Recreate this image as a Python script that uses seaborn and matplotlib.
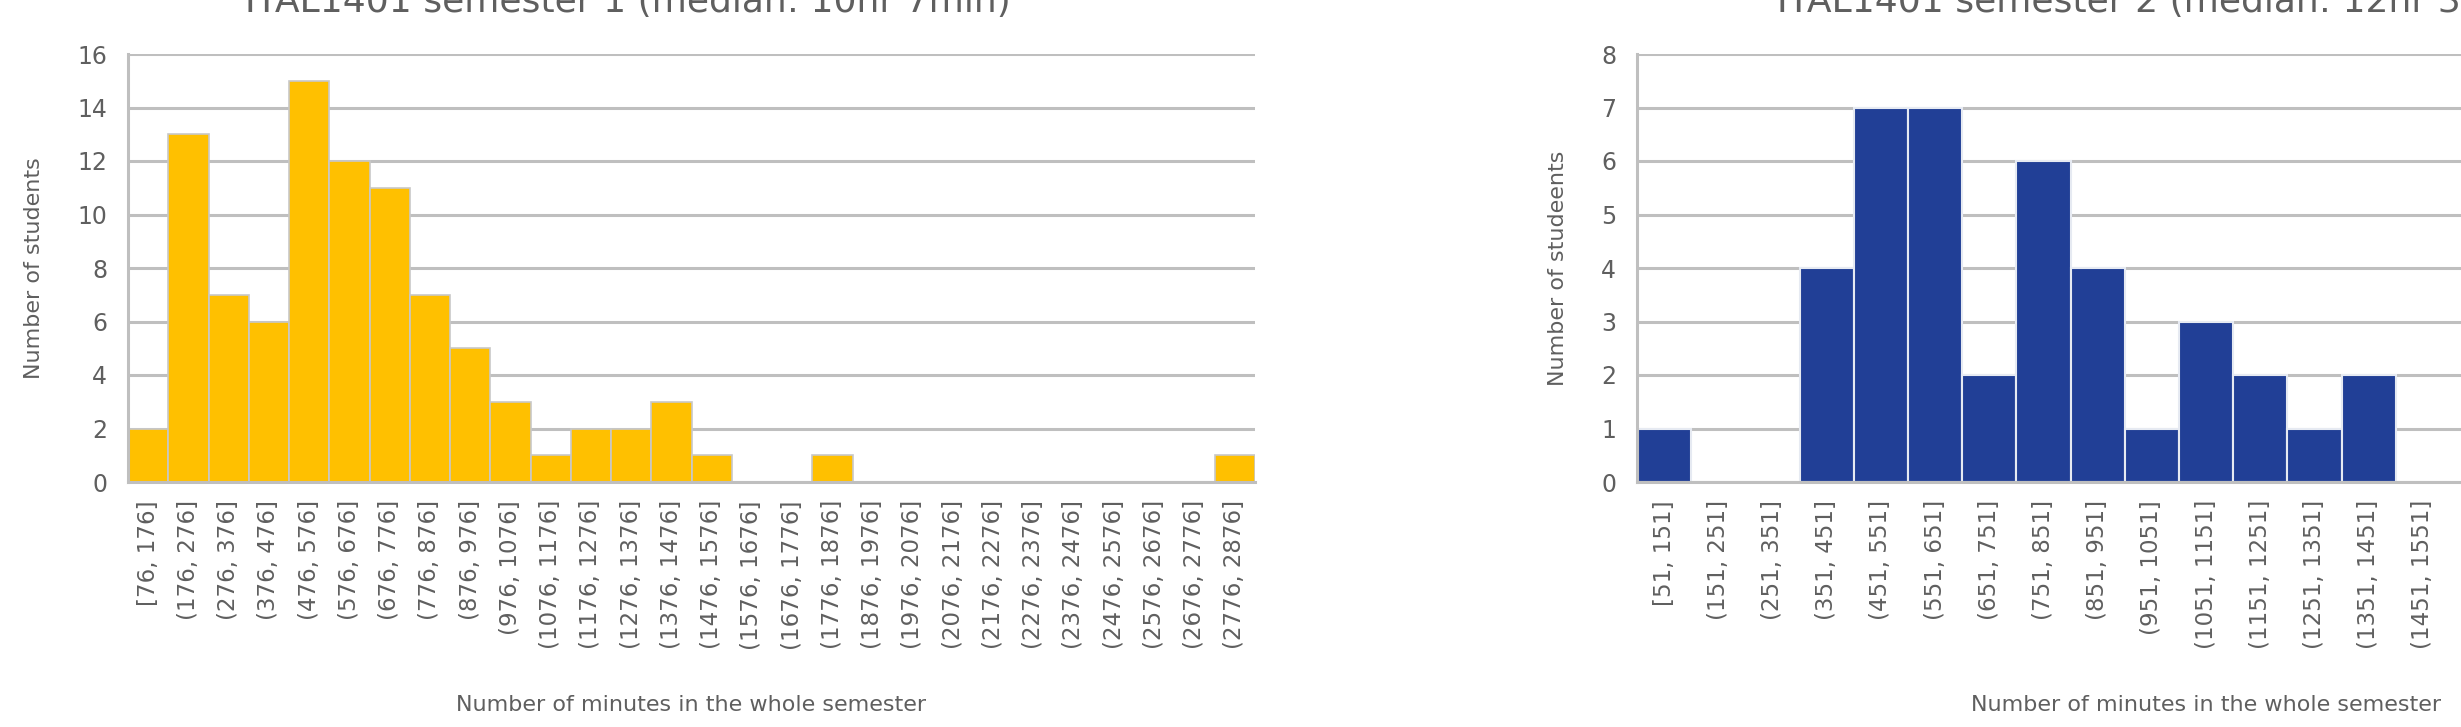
import matplotlib
matplotlib.use("Agg")
import matplotlib.pyplot as plt
import seaborn as sns
import pandas as pd

# ---- data ----
sem1_bins = ["[76, 176]", "(176, 276]", "(276, 376]", "(376, 476]", "(476, 576]",
             "(576, 676]", "(676, 776]", "(776, 876]", "(876, 976]", "(976, 1076]",
             "(1076, 1176]", "(1176, 1276]", "(1276, 1376]", "(1376, 1476]",
             "(1476, 1576]", "(1576, 1676]", "(1676, 1776]", "(1776, 1876]",
             "(1876, 1976]", "(1976, 2076]", "(2076, 2176]", "(2176, 2276]",
             "(2276, 2376]", "(2376, 2476]", "(2476, 2576]", "(2576, 2676]",
             "(2676, 2776]", "(2776, 2876]"]
sem1_counts = [2, 13, 7, 6, 15, 12, 11, 7, 5, 3, 1, 2, 2, 3, 1, 0, 0, 1,
               0, 0, 0, 0, 0, 0, 0, 0, 0, 1]

sem2_bins = ["[51, 151]", "(151, 251]", "(251, 351]", "(351, 451]", "(451, 551]",
             "(551, 651]", "(651, 751]", "(751, 851]", "(851, 951]", "(951, 1051]",
             "(1051, 1151]", "(1151, 1251]", "(1251, 1351]", "(1351, 1451]",
             "(1451, 1551]"]
sem2_counts = [1, 0, 0, 4, 7, 7, 2, 6, 4, 1, 3, 2, 1, 2, 0]

title1 = "ITAL1401 semester 1 (median: 10hr 7min)"
title2 = "ITAL1401 semester 2 (median: 12hr 3min)"
ylabel1 = "Number of students"
ylabel2 = "Number of studeents"
xlabel = "Number of minutes in the whole semester"

# ---- style ----
sns.set_theme(style="white")
plt.rcParams["font.family"] = ["DejaVu Sans"]
TXT = "#5f5f5f"
GRID = "#BFBFBF"

W, H = 2461, 727
fig = plt.figure(figsize=(W / 100, H / 100), dpi=100)

def px_ax(x0, x1, ytop, ybot):
    return fig.add_axes([x0 / W, 1 - ybot / H, (x1 - x0) / W, (ybot - ytop) / H])

ax1 = px_ax(128, 1255, 54, 482)
ax2 = px_ax(1637, 1637 + 21 * 54.2, 54, 482)

df1 = pd.DataFrame({"bin": sem1_bins, "count": sem1_counts})
df2 = pd.DataFrame({"bin": sem2_bins, "count": sem2_counts})

sns.barplot(data=df1, x="bin", y="count", ax=ax1, color="#FFC000",
            width=1.0, edgecolor="#C8C8C8", linewidth=1.2, saturation=1)
sns.barplot(data=df2, x="bin", y="count", ax=ax2, color="#213F96",
            width=1.0, edgecolor="#E6EAF2", linewidth=1.5, saturation=1)

for ax, ymax, step, n, ylab, ylx in [
    (ax1, 16, 2, len(sem1_bins), ylabel1, 34),
    (ax2, 8, 1, 21, ylabel2, 1558),
]:
    ax.set_ylim(0, ymax)
    ax.set_xlim(-0.5, n - 0.5)
    ax.set_yticks(range(0, ymax + 1, step))
    ax.yaxis.grid(True, color=GRID, linewidth=2.2)
    ax.set_axisbelow(True)
    for s in ["top", "right"]:
        ax.spines[s].set_visible(False)
    for s in ["left", "bottom"]:
        ax.spines[s].set_color(GRID)
        ax.spines[s].set_linewidth(2.2)
    ax.tick_params(axis="y", length=0, pad=15, labelsize=17, labelcolor=TXT)
    ax.tick_params(axis="x", length=0, pad=13, labelsize=16.5, labelcolor=TXT,
                   labelrotation=90)
    for lab in ax.get_xticklabels():
        lab.set_va("top")
        lab.set_ha("center")
    ax.set_ylabel(ylab, fontsize=16, color=TXT)
    bb = ax.get_position()
    ax.yaxis.set_label_coords((ylx / W - bb.x0) / bb.width, 0.5)
    ax.yaxis.label.set_va("center")
    ax.set_xlabel(xlabel, fontsize=16, color=TXT)
    ax.xaxis.set_label_coords(0.5, (482 - 705) / 428)
    ax.xaxis.label.set_va("center")

fig.text(245 / W, 1 - 12 / H, title1, ha="left", va="baseline",
         fontsize=26, color=TXT, family="DejaVu Sans")
fig.text(1777 / W, 1 - 12 / H, title2, ha="left", va="baseline",
         fontsize=26, color=TXT, family="DejaVu Sans")

fig.savefig("out.png", dpi=100)
